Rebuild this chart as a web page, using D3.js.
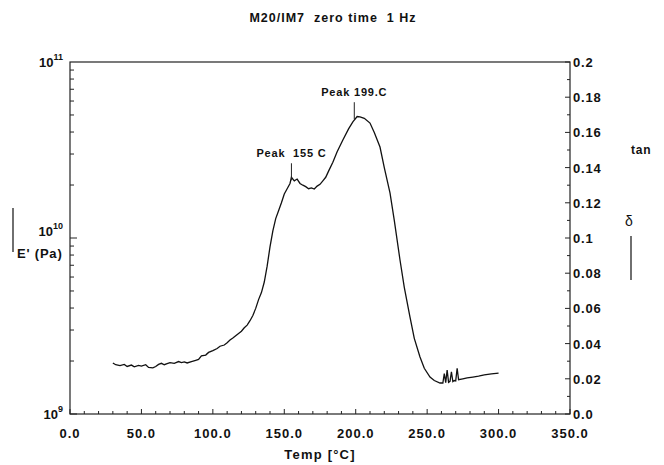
<!DOCTYPE html>
<html>
<head>
<meta charset="utf-8">
<script src="https://d3js.org/d3.v7.min.js"></script>
<style>
  body { margin: 0; background: #fff; }
  text { font-family: "Liberation Sans", Arial, Helvetica, sans-serif; fill: #111; }
</style>
</head>
<body>
<script>
// temperature (°C) and tan delta readings
var tempC = [30, 32, 35, 38, 40, 43, 45, 48, 50, 53, 55, 58, 60, 62, 64, 66, 68, 70, 73, 76, 78, 80, 82, 85, 88, 90,
  92, 95, 97, 100, 103, 105, 108, 110, 112, 114, 116, 118, 120, 122, 124, 126, 128, 130, 132, 134, 136, 138, 140,
  142, 144, 146, 148, 150, 152, 154, 155, 157, 159, 161, 163, 165, 167, 169, 171, 173, 175, 177, 179, 181, 184,
  187, 191, 195, 198, 201, 203, 206, 210, 213, 217, 220, 224, 227, 231, 234, 238, 241, 245, 248, 252, 255, 259,
  261, 262, 263, 264, 265, 266, 267, 268, 269, 270, 271, 272, 275, 278, 282, 286, 290, 295, 300];
var tanDelta = [0.0290, 0.0280, 0.0275, 0.0282, 0.0270, 0.0278, 0.0268, 0.0276, 0.0272, 0.0280, 0.0265, 0.0262, 0.0270, 0.0282, 0.0288, 0.0280, 0.0286, 0.0292, 0.0288, 0.0298, 0.0292, 0.0296, 0.0290, 0.0298, 0.0305, 0.0310,
  0.0330, 0.0335, 0.0350, 0.0360, 0.0372, 0.0385, 0.0392, 0.0405, 0.0420, 0.0432, 0.0445, 0.0458, 0.0470, 0.0490, 0.0505, 0.0530, 0.0560, 0.0600, 0.0650, 0.0690, 0.0750, 0.0840, 0.0950,
  0.1040, 0.1110, 0.1155, 0.1200, 0.1250, 0.1280, 0.1310, 0.1345, 0.1325, 0.1335, 0.1310, 0.1300, 0.1292, 0.1280, 0.1285, 0.1278, 0.1295, 0.1305, 0.1325, 0.1345, 0.1380, 0.1430,
  0.1490, 0.1557, 0.1620, 0.1660, 0.1690, 0.1688, 0.1680, 0.1653, 0.1600, 0.1517, 0.1400, 0.1256, 0.1100, 0.0875, 0.0720, 0.0551, 0.0430, 0.0324, 0.0260, 0.0210, 0.0190, 0.0176,
  0.0176, 0.0230, 0.0178, 0.0250, 0.0180, 0.0186, 0.0240, 0.0184, 0.0190, 0.0188, 0.0260, 0.0195, 0.0200, 0.0205, 0.0210, 0.0215, 0.0222, 0.0228, 0.0232];

var xTicks = [0, 50, 100, 150, 200, 250, 300, 350];
var rightTicks = [0, 0.02, 0.04, 0.06, 0.08, 0.1, 0.12, 0.14, 0.16, 0.18, 0.2];
var rightTickLabels = ["0.0", "0.02", "0.04", "0.06", "0.08", "0.1", "0.12", "0.14", "0.16", "0.18", "0.2"];
var leftTicks = [1e9, 1e10, 1e11];
var leftExp = ["9", "10", "11"];
var peaks = [{t: 155, v: 0.1345, label: "Peak  155 C"}, {t: 199, v: 0.1692, label: "Peak 199.C"}];

var W = 664, H = 465;
var L = 70, R = 570, T = 62, B = 414;

var svg = d3.select('body').append('svg').attr('width', W).attr('height', H);

var x = d3.scaleLinear().domain([0, 350]).range([L, R]);
var yR = d3.scaleLinear().domain([0, 0.2]).range([B, T]);
var yL = d3.scaleLog().domain([1e9, 1e11]).range([B, T]);

// frame
svg.append('rect').attr('x', L).attr('y', T).attr('width', R - L).attr('height', B - T)
  .attr('fill', 'none').attr('stroke', '#222').attr('stroke-width', 1.2);

// bottom ticks
var g = svg.append('g').attr('stroke', '#222').attr('stroke-width', 1);
d3.range(0, 351, 10).forEach(function(t) {
  var major = t % 50 === 0;
  g.append('line').attr('x1', x(t)).attr('x2', x(t)).attr('y1', B).attr('y2', B - (major ? 5 : 3));
});
svg.selectAll('text.xt').data(xTicks).enter().append('text')
  .attr('class', 'xt').attr('x', d => x(d)).attr('y', B + 24)
  .attr('text-anchor', 'middle').attr('font-size', 13).attr('font-weight', 'bold').attr('letter-spacing', 1)
  .text(d => d.toFixed(1));
svg.append('text').attr('x', 320).attr('y', B + 45).attr('text-anchor', 'middle')
  .attr('font-size', 13).attr('font-weight', 'bold').attr('letter-spacing', 1.2).text('Temp [°C]');

// right ticks
d3.range(0, 21).forEach(function(i) {
  var v = i * 0.01;
  g.append('line').attr('x1', R).attr('x2', R - (i % 2 === 0 ? 5 : 3)).attr('y1', yR(v)).attr('y2', yR(v));
});
svg.selectAll('text.rt').data(rightTicks).enter().append('text')
  .attr('class', 'rt').attr('x', R + 3).attr('y', d => yR(d) + 5)
  .attr('font-size', 13).attr('font-weight', 'bold').attr('letter-spacing', 0.8)
  .text((d, i) => rightTickLabels[i]);

// left log ticks
[1e9, 1e10].forEach(function(dec) {
  d3.range(1, 10).forEach(function(m) {
    var v = dec * m;
    g.append('line').attr('x1', L).attr('x2', L + (m === 1 ? 7 : 4)).attr('y1', yL(v)).attr('y2', yL(v));
  });
});
leftTicks.forEach(function(v, i) {
  var t = svg.append('text').attr('x', L - 7).attr('y', yL(v) + (i === 1 ? -2 : 5))
    .attr('text-anchor', 'end').attr('font-size', 13).attr('font-weight', 'bold');
  t.append('tspan').text('10');
  t.append('tspan').attr('dy', -7).attr('font-size', 9).text(leftExp[i]);
});
svg.append('text').attr('x', 17).attr('y', yL(1e10) + 20).attr('font-size', 13).attr('font-weight', 'bold')
  .attr('letter-spacing', 0.8).text("E' (Pa)");
svg.append('line').attr('x1', 13).attr('x2', 13).attr('y1', yL(1e10) - 30).attr('y2', yL(1e10) + 14)
  .attr('stroke', '#222').attr('stroke-width', 1.3);

// right axis title
svg.append('text').attr('x', 631).attr('y', 154).attr('font-size', 12).attr('font-weight', 'bold')
  .attr('letter-spacing', 0.8).text('tan');
svg.append('text').attr('x', 625).attr('y', 226).attr('font-size', 14).text('δ');
svg.append('line').attr('x1', 631).attr('x2', 631).attr('y1', 236).attr('y2', 280)
  .attr('stroke', '#222').attr('stroke-width', 1.3);

// title
svg.append('text').attr('x', 333).attr('y', 22).attr('text-anchor', 'middle')
  .attr('font-size', 12.5).attr('font-weight', 'bold').attr('letter-spacing', 1).attr('xml:space', 'preserve')
  .text('M20/IM7  zero time  1 Hz');

// curve
var pts = tempC.map((t, i) => [t, tanDelta[i]]);
var line = d3.line().x(d => x(d[0])).y(d => yR(d[1]));
svg.append('path').datum(pts).attr('d', line)
  .attr('fill', 'none').attr('stroke', '#111').attr('stroke-width', 1.3);

// peak markers
peaks.forEach(function(p) {
  var px = x(p.t), py = yR(p.v);
  svg.append('line').attr('x1', px).attr('x2', px).attr('y1', py - 14).attr('y2', py + 3)
    .attr('stroke', '#222').attr('stroke-width', 1);
  svg.append('text').attr('x', px).attr('y', py - 20).attr('text-anchor', 'middle')
    .attr('font-size', 11).attr('font-weight', 'bold').attr('letter-spacing', 0.8).attr('xml:space', 'preserve').text(p.label);
});
</script>
</body>
</html>
